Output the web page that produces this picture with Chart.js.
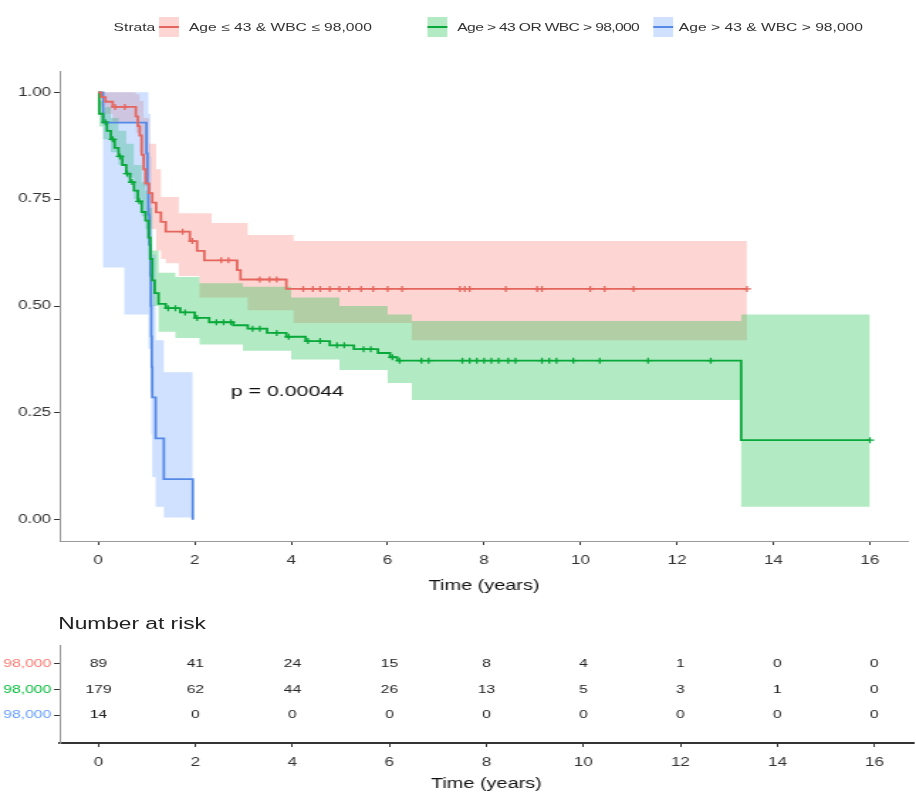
<!DOCTYPE html>
<html>
<head>
<meta charset="utf-8">
<script src="https://cdn.jsdelivr.net/npm/chart.js@4.4.1/dist/chart.umd.min.js"></script>
<style>
  html, body { margin: 0; padding: 0; background: #fff; overflow: hidden; }
  body { width: 916px; height: 798px; font-family: "Liberation Sans", Arial, sans-serif; }
  /* the reference is stretched sideways, so draw narrow and widen */
  #page { position: absolute; left: 0; top: 0; width: 645px; height: 798px;
          transform: scaleX(1.4202); transform-origin: 0 0; }
  #legend { position: absolute; top: 0; left: 0; width: 645px; height: 56px; font-size: 11px; color: #333; }
  #legend span { position: absolute; top: 21px; white-space: nowrap; }
  #legend .key { position: absolute; top: 17px; width: 14px; height: 20px; }
  #legend .key i { position: absolute; left: 0; right: 0; top: 9px; height: 2px; }
  #top { position: absolute; left: 0; top: 0; }
  #risk { position: absolute; left: 0; top: 600px; }
  #riskTitle { position: absolute; left: 41px; top: 615px; font-size: 16px; color: #222; white-space: nowrap; }
</style>
</head>
<body>
<div id="page">
  <canvas id="top" width="645" height="600" style="width:645px;height:600px"></canvas>
  <div id="legend">
    <span style="left:80px">Strata</span>
    <div class="key" style="left:112px;background:rgba(248,118,109,0.3)"><i style="background:#E5665E"></i></div>
    <span style="left:133px">Age ≤ 43 &amp; WBC ≤ 98,000</span>
    <div class="key" style="left:301px;background:rgba(0,186,56,0.3)"><i style="background:#09A83A"></i></div>
    <span style="left:322px;letter-spacing:-0.45px">Age &gt; 43 OR WBC &gt; 98,000</span>
    <div class="key" style="left:460px;background:rgba(97,156,255,0.3)"><i style="background:#5589E6"></i></div>
    <span style="left:478px">Age &gt; 43 &amp; WBC &gt; 98,000</span>
  </div>
  <div id="riskTitle">Number at risk</div>
  <canvas id="risk" width="645" height="198" style="width:645px;height:198px"></canvas>
</div>
<script>
const strata = ['Age ≤ 43 & WBC ≤ 98,000', 'Age > 43 OR WBC > 98,000', 'Age > 43 & WBC > 98,000']
const lineColors = ['#E5665E', '#09A83A', '#5589E6']
const labelColors = ['#F8766D', '#00BA38', '#619CFF']
const bandColors = ['rgba(248,118,109,0.3)', 'rgba(0,186,56,0.3)', 'rgba(97,156,255,0.3)']

const xTicks = [0, 2, 4, 6, 8, 10, 12, 14, 16]
const yTicks = [0, 0.25, 0.5, 0.75, 1]

// Kaplan-Meier steps
const redTime = [0, 0.06, 0.15, 0.3, 0.78, 0.82, 0.86, 0.9, 0.94, 0.98, 1.05, 1.12, 1.2, 1.3, 1.4, 1.9, 2.05, 2.2, 2.88, 2.95, 3.9, 13.45]
const redSurv = [1, 0.989, 0.978, 0.966, 0.944, 0.921, 0.899, 0.854, 0.82, 0.787, 0.764, 0.742, 0.719, 0.697, 0.674, 0.652, 0.629, 0.607, 0.584, 0.562, 0.54, 0.54]
const redBandTime = [0, 0.06, 0.15, 0.3, 0.78, 0.86, 0.94, 1.05, 1.2, 1.3, 1.4, 1.67, 2.1, 2.35, 3.1, 4.05, 6.5, 13.45]
const redUpper = [1, 1, 1, 1, 0.995, 0.98, 0.94, 0.88, 0.82, 0.755, 0.755, 0.717, 0.717, 0.694, 0.666, 0.652, 0.652, 0.652]
const redLower = [1, 0.967, 0.95, 0.93, 0.905, 0.86, 0.78, 0.68, 0.63, 0.61, 0.6, 0.57, 0.52, 0.52, 0.49, 0.46, 0.42, 0.42]
const redCens = [0.35, 0.55, 1.75, 1.95, 2.55, 2.7, 3.35, 3.55, 3.7, 4.25, 4.45, 4.6, 4.8, 5.0, 5.2, 5.45, 5.7, 6.0, 6.3, 7.5, 7.6, 7.7, 8.45, 9.1, 9.2, 10.2, 10.5, 11.1, 13.45]

const greenTime = [0, 0.02, 0.1, 0.18, 0.26, 0.34, 0.42, 0.5, 0.58, 0.66, 0.74, 0.82, 0.9, 0.98, 1.04, 1.08, 1.12, 1.17, 1.25, 1.4, 1.7, 2.0, 2.3, 2.8, 3.1, 3.5, 3.9, 4.3, 4.8, 5.3, 5.8, 6.05, 6.2, 13.33, 16.0]
const greenSurv = [1, 0.95, 0.93, 0.91, 0.89, 0.87, 0.85, 0.83, 0.81, 0.79, 0.77, 0.745, 0.72, 0.7, 0.66, 0.61, 0.56, 0.53, 0.505, 0.495, 0.485, 0.472, 0.462, 0.455, 0.447, 0.437, 0.428, 0.418, 0.408, 0.399, 0.39, 0.38, 0.372, 0.186, 0.186]
const greenBandTime = [0, 0.02, 0.1, 0.26, 0.42, 0.58, 0.74, 0.9, 0.98, 1.04, 1.12, 1.25, 1.6, 2.1, 3.0, 4.0, 5.0, 6.0, 6.5, 13.33, 16.0]
const greenUpper = [1, 0.98, 0.965, 0.94, 0.91, 0.88, 0.83, 0.79, 0.77, 0.73, 0.63, 0.578, 0.568, 0.553, 0.545, 0.52, 0.5, 0.48, 0.465, 0.48, 0.48]
const greenLower = [1, 0.92, 0.89, 0.86, 0.83, 0.8, 0.75, 0.71, 0.68, 0.61, 0.5, 0.44, 0.425, 0.41, 0.395, 0.375, 0.35, 0.32, 0.28, 0.03, 0.03]
const greenCens = [0.15, 0.3, 0.45, 0.6, 0.7, 0.85, 1.45, 1.6, 1.8, 2.05, 2.45, 2.6, 2.75, 3.2, 3.35, 3.7, 3.95, 4.35, 4.6, 4.95, 5.1, 5.5, 5.65, 6.1, 6.25, 6.7, 6.85, 7.55, 7.7, 7.85, 8.0, 8.15, 8.3, 8.5, 8.65, 9.2, 9.35, 9.5, 9.85, 10.4, 11.4, 12.7, 16.0]

const blueTime = [0, 0.1, 1.0, 1.02, 1.04, 1.06, 1.08, 1.09, 1.1, 1.11, 1.12, 1.19, 1.36, 1.96]
const blueSurv = [1, 0.929, 0.857, 0.786, 0.714, 0.643, 0.571, 0.5, 0.429, 0.357, 0.286, 0.19, 0.095, 0]
const blueBandTime = [0, 0.1, 0.54, 1.0, 1.04, 1.08, 1.1, 1.12, 1.19, 1.36, 1.96]
const blueUpper = [1, 1, 1, 1, 0.95, 0.85, 0.75, 0.62, 0.42, 0.345, 0.345]
const blueLower = [1, 0.59, 0.48, 0.48, 0.4, 0.3, 0.2, 0.1, 0.03, 0.005, 0.005]

const pvalText = 'p = 0.00044'
const pvalPos = [2.75, 0.3]

// number at risk
const riskTimes = [0, 2, 4, 6, 8, 10, 12, 14, 16]
const riskRed = [89, 41, 24, 15, 8, 4, 1, 0, 0]
const riskGreen = [179, 62, 44, 26, 13, 5, 3, 1, 0]
const riskBlue = [14, 0, 0, 0, 0, 0, 0, 0, 0]

Chart.defaults.font.family = '"Liberation Sans", Arial, sans-serif'
Chart.defaults.animation = false

const pts = (xs, ys) => xs.map((x, i) => ({ x: x, y: ys[i] }))
// survival value at a censoring time = last step at or before it
const survAt = (xs, ys, t) => {
  let v = ys[0]
  xs.forEach((x, i) => { if (x <= t) v = ys[i] })
  return v
}
const censPts = (cens, xs, ys) => cens.map(t => ({ x: t, y: survAt(xs, ys, t) }))

// 'before' = hold the previous value, then drop at the event time
const kmLine = (data, color) => ({
  data: data, borderColor: color, borderWidth: 1.8, stepped: 'before',
  pointRadius: 0, fill: false
})
const censSet = (data, color) => ({
  data: data, showLine: false, pointStyle: 'cross', pointRadius: 3,
  pointBorderWidth: 1.3, borderColor: color, backgroundColor: color
})
const band = (data, color, target) => ({
  data: data, borderWidth: 0, stepped: 'before', pointRadius: 0,
  backgroundColor: color, fill: target === null ? false : target
})

// lines first so they paint on top; green bands over red bands
const datasets = [
  kmLine(pts(redTime, redSurv), lineColors[0]),
  kmLine(pts(greenTime, greenSurv), lineColors[1]),
  kmLine(pts(blueTime, blueSurv), lineColors[2]),
  censSet(censPts(redCens, redTime, redSurv), lineColors[0]),
  censSet(censPts(greenCens, greenTime, greenSurv), lineColors[1]),
  band(pts(blueBandTime, blueLower), bandColors[2], null),     // 5
  band(pts(blueBandTime, blueUpper), bandColors[2], 5),        // 6
  band(pts(greenBandTime, greenLower), bandColors[1], null),   // 7
  band(pts(greenBandTime, greenUpper), bandColors[1], 7),      // 8
  band(pts(redBandTime, redLower), bandColors[0], null),       // 9
  band(pts(redBandTime, redUpper), bandColors[0], 9)           // 10
]

const pvalPlugin = {
  id: 'pval',
  afterDatasetsDraw(chart) {
    const { ctx, scales } = chart
    ctx.save()
    ctx.font = '15px "Liberation Sans", Arial, sans-serif'
    ctx.fillStyle = '#111'
    ctx.textAlign = 'left'
    ctx.textBaseline = 'middle'
    ctx.fillText(pvalText, scales.x.getPixelForValue(pvalPos[0]), scales.y.getPixelForValue(pvalPos[1]))
    ctx.restore()
  }
}

const axisX = (height, borderColor, borderWidth) => ({
  type: 'linear', min: -0.8, max: 16.8,
  afterBuildTicks: s => { s.ticks = xTicks.map(v => ({ value: v })) },
  afterFit: s => { s.height = height },
  grid: { drawOnChartArea: false, drawTicks: true, tickLength: 4, color: '#333' },
  border: { display: true, color: borderColor, width: borderWidth },
  ticks: { color: '#333', font: { size: 12 }, padding: 8, maxRotation: 0, autoSkip: false },
  title: { display: true, text: 'Time (years)', color: '#111', font: { size: 14 }, padding: { top: 0, bottom: 5 } }
})

new Chart(document.getElementById('top'), {
  type: 'line',
  data: { datasets: datasets },
  options: {
    responsive: false,
    layout: { padding: { top: 71, right: 2, left: 0, bottom: 0 } },
    plugins: { legend: { display: false }, tooltip: { enabled: false } },
    scales: {
      x: axisX(59, '#999', 1),
      y: {
        type: 'linear', min: -0.05, max: 1.05,
        afterBuildTicks: s => { s.ticks = yTicks.map(v => ({ value: v })) },
        afterFit: s => { s.width = 42 },
        grid: { drawOnChartArea: false, drawTicks: true, tickLength: 4, color: '#333' },
        border: { display: true, color: '#999', width: 1 },
        ticks: { color: '#333', font: { size: 12 }, padding: 2, callback: v => v.toFixed(2) }
      }
    }
  },
  plugins: [pvalPlugin]
})

// risk table: one invisible point per cell, labelled with its count
const riskSet = (counts, row) => ({
  data: riskTimes.map((t, i) => ({ x: t, y: row, n: counts[i] })),
  pointRadius: 0, showLine: false
})

const riskText = {
  id: 'riskText',
  afterDatasetsDraw(chart) {
    const { ctx } = chart
    ctx.save()
    ctx.font = '11px "Liberation Sans", Arial, sans-serif'
    ctx.fillStyle = '#222'
    ctx.textAlign = 'center'
    ctx.textBaseline = 'middle'
    chart.data.datasets.forEach((ds, di) => {
      chart.getDatasetMeta(di).data.forEach((el, i) => {
        ctx.fillText(String(ds.data[i].n), el.x, el.y)
      })
    })
    ctx.restore()
  }
}

new Chart(document.getElementById('risk'), {
  type: 'scatter',
  data: { datasets: [riskSet(riskRed, 1), riskSet(riskGreen, 2), riskSet(riskBlue, 3)] },
  options: {
    responsive: false,
    layout: { padding: { top: 45, right: 2, left: 0, bottom: 0 } },
    plugins: { legend: { display: false }, tooltip: { enabled: false } },
    scales: {
      x: axisX(55, '#333', 2),
      y: {
        type: 'linear', reverse: true, min: 0.255, max: 4.098,
        afterBuildTicks: s => { s.ticks = [1, 2, 3].map(v => ({ value: v })) },
        afterFit: s => { s.width = 42 },
        grid: { drawOnChartArea: false, drawTicks: true, tickLength: 4, color: '#333' },
        border: { display: true, color: '#999', width: 1 },
        ticks: {
          font: { size: 11 }, padding: 2,
          color: c => labelColors[c.index],
          callback: v => strata[v - 1]
        }
      }
    }
  },
  plugins: [riskText]
})
</script>
</body>
</html>
